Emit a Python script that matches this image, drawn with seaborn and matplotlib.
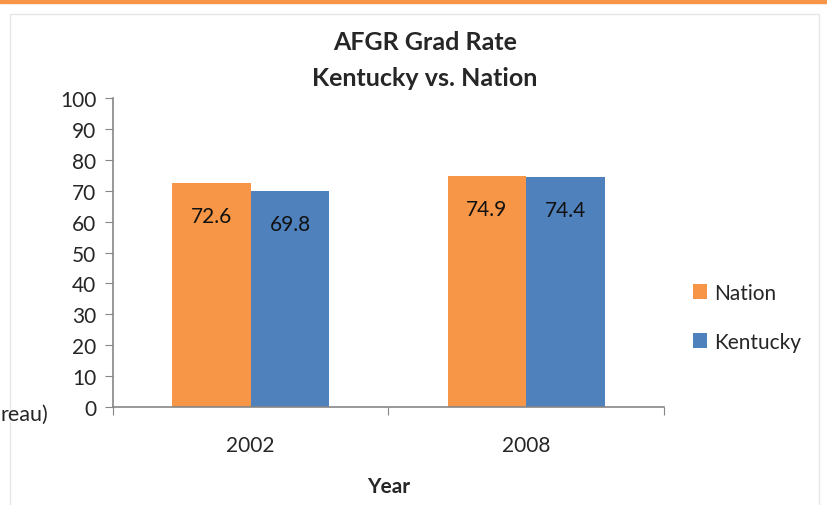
import matplotlib
matplotlib.use("Agg")
import matplotlib.pyplot as plt
import matplotlib.patches as mpatches
import seaborn as sns
import pandas as pd

# Data
years = ["2002", "2008"]
groups = ["Nation", "Kentucky"]
nation = [72.6, 74.9]
kentucky = [69.8, 74.4]

df = pd.DataFrame({
    "Year": years * 2,
    "Group": [groups[0]] * len(years) + [groups[1]] * len(years),
    "Rate": nation + kentucky,
})

sns.set_style("white")
plt.rcParams["font.family"] = ["Lato", "DejaVu Sans"]

orange = "#F79646"
blue = "#4F81BD"
axis_gray = "#868686"

fig = plt.figure(figsize=(8.28, 5.06), dpi=100)
ax = fig.add_axes([113 / 828, 1 - 408 / 506, (664 - 113) / 828, (408 - 99) / 506])

sns.barplot(data=df, x="Year", y="Rate", hue="Group", order=years, hue_order=groups,
            palette=[orange, blue], width=0.57, saturation=1, linewidth=0,
            edgecolor="none", ax=ax, legend=True)

for cont in ax.containers:
    ax.bar_label(cont, fmt="%.1f", label_type="edge", padding=-31, fontsize=15, color="#111111")

ax.set_ylim(0, 100)
ax.set_yticks(range(0, 101, 10))
ax.set_xlim(-0.5, 1.5)
ax.set_xticks([-0.5, 0.5, 1.5])
ax.set_xticklabels([])
ax.set_xticks([0, 1], minor=True)
ax.set_xticklabels(years, minor=True)
ax.tick_params(axis="x", which="minor", length=0, pad=20, labelsize=15)
ax.tick_params(axis="x", which="major", length=6, color=axis_gray, direction="out", bottom=True)
ax.tick_params(axis="y", length=6, color=axis_gray, direction="out", left=True, labelsize=15, pad=6)

for side in ["top", "right"]:
    ax.spines[side].set_visible(False)
for side in ["left", "bottom"]:
    ax.spines[side].set_color(axis_gray)
    ax.spines[side].set_linewidth(1.2)

ax.set_ylabel("")
ax.set_xlabel("Year", fontsize=15, fontweight="bold", labelpad=15)

fig.text(425 / 828, 1 - 42 / 506, "AFGR Grad Rate", ha="center", va="center",
         fontsize=18, fontweight="bold")
fig.text(425 / 828, 1 - 79 / 506, "Kentucky vs. Nation", ha="center", va="center",
         fontsize=18, fontweight="bold")
fig.text(0, 1 - 415 / 506, "reau)", ha="left", va="center", fontsize=15.5)

leg = ax.legend(loc="center left", bbox_to_anchor=(1.018, 0.29), frameon=False,
                fontsize=15, handlelength=0.7, handleheight=0.7, labelspacing=1.4,
                handletextpad=0.35)

# chart frame and top accent line
fig.patches.append(mpatches.Rectangle((10 / 828, -0.01), 809 / 828, 1 - 15 / 506 + 0.01,
                                      transform=fig.transFigure, fill=False,
                                      edgecolor="#e6e6e6", linewidth=1))
fig.patches.append(mpatches.Rectangle((0, 1 - 4 / 506), 1, 4 / 506,
                                      transform=fig.transFigure, color=orange))

fig.savefig("out.png", dpi=100)
